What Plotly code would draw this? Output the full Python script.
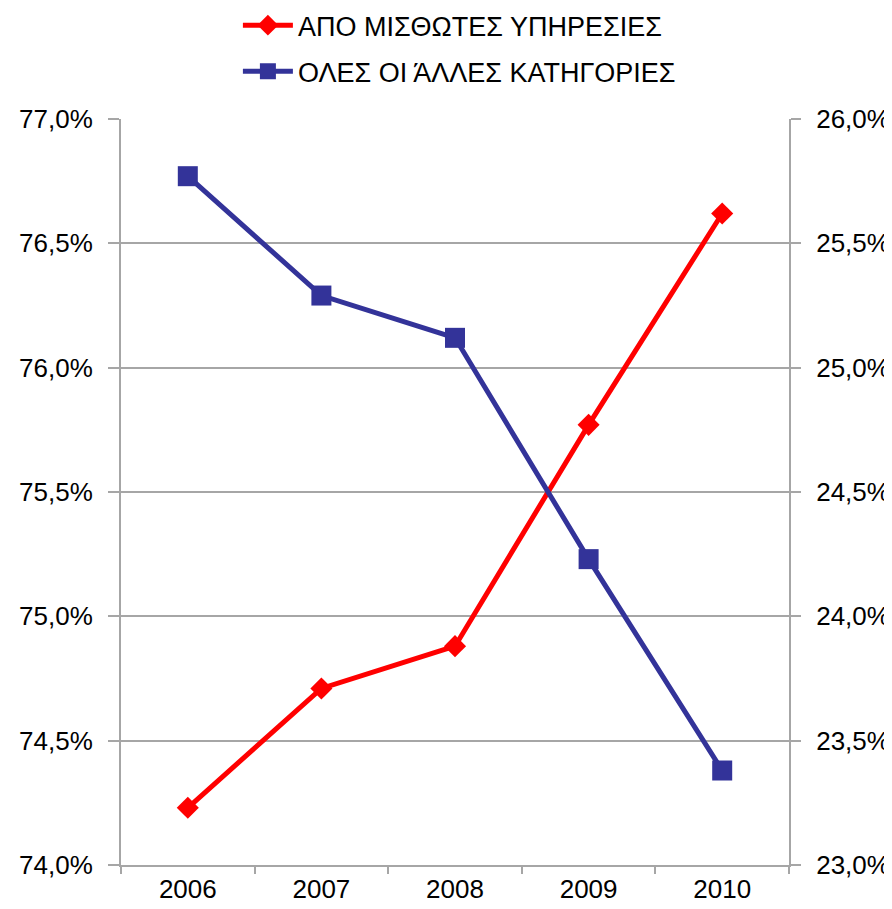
import plotly.graph_objects as go

years = ["2006", "2007", "2008", "2009", "2010"]
salaried = [0.7423, 0.7471, 0.7488, 0.7577, 0.7662]
others = [0.2577, 0.2529, 0.2512, 0.2423, 0.2338]
name_salaried = "ΑΠΟ ΜΙΣΘΩΤΕΣ ΥΠΗΡΕΣΙΕΣ"
name_others = "ΟΛΕΣ ΟΙ ΆΛΛΕΣ ΚΑΤΗΓΟΡΙΕΣ"

FONT = "Liberation Sans, Arial, sans-serif"
GRAY = "#A6A6A6"

fig = go.Figure()
fig.add_trace(go.Scatter(
    x=years, y=salaried, name=name_salaried, mode="lines+markers",
    line=dict(color="#FF0000", width=5),
    marker=dict(symbol="diamond", size=17, color="#FF0000"),
    yaxis="y", legendgroup="a",
))
fig.add_trace(go.Scatter(
    x=years, y=others, name=name_others, mode="lines+markers",
    line=dict(color="#333399", width=5),
    marker=dict(symbol="square", size=20, color="#333399"),
    yaxis="y2", legendgroup="b",
))

tickfont = dict(family=FONT, size=26, color="#000000")

# page body has an 8px margin, so the figure is offset by 8px
fig.update_layout(
    width=884, height=901,
    margin=dict(l=113, r=103, t=111, b=44, autoexpand=False),
    paper_bgcolor="white", plot_bgcolor="white",
    separators=",.",
    font=dict(family=FONT, size=26, color="#000000"),
    showlegend=True,
    xaxis=dict(
        type="category", tickson="boundaries", ticks="outside", ticklen=7,
        tickcolor=GRAY, tickwidth=2, showline=True, linecolor=GRAY, linewidth=2,
        showgrid=False, tickfont=tickfont, range=[-0.5, 4.5], automargin=False,
    ),
    yaxis=dict(
        range=[0.74, 0.77], dtick=0.005, tick0=0.74, tickformat=".1%",
        showgrid=True, gridcolor=GRAY, gridwidth=2, zeroline=False,
        showline=True, linecolor=GRAY, linewidth=2,
        ticks="outside", ticklen=11, tickcolor=GRAY, tickwidth=2,
        ticklabelstandoff=10, tickfont=tickfont, automargin=False,
    ),
    yaxis2=dict(
        range=[0.23, 0.26], dtick=0.005, tick0=0.23, tickformat=".1%",
        overlaying="y", side="right", showgrid=False, zeroline=False,
        showline=True, linecolor=GRAY, linewidth=2,
        ticks="outside", ticklen=10, tickcolor=GRAY, tickwidth=2,
        ticklabelstandoff=10, tickfont=tickfont, automargin=False,
    ),
    legend=dict(
        x=0.175, xanchor="left", y=1.158, yanchor="top",
        orientation="v", traceorder="grouped", tracegroupgap=8,
        bgcolor="rgba(0,0,0,0)", font=dict(family=FONT, size=27),
        itemwidth=50,
    ),
)

fig.write_html("out.html")
